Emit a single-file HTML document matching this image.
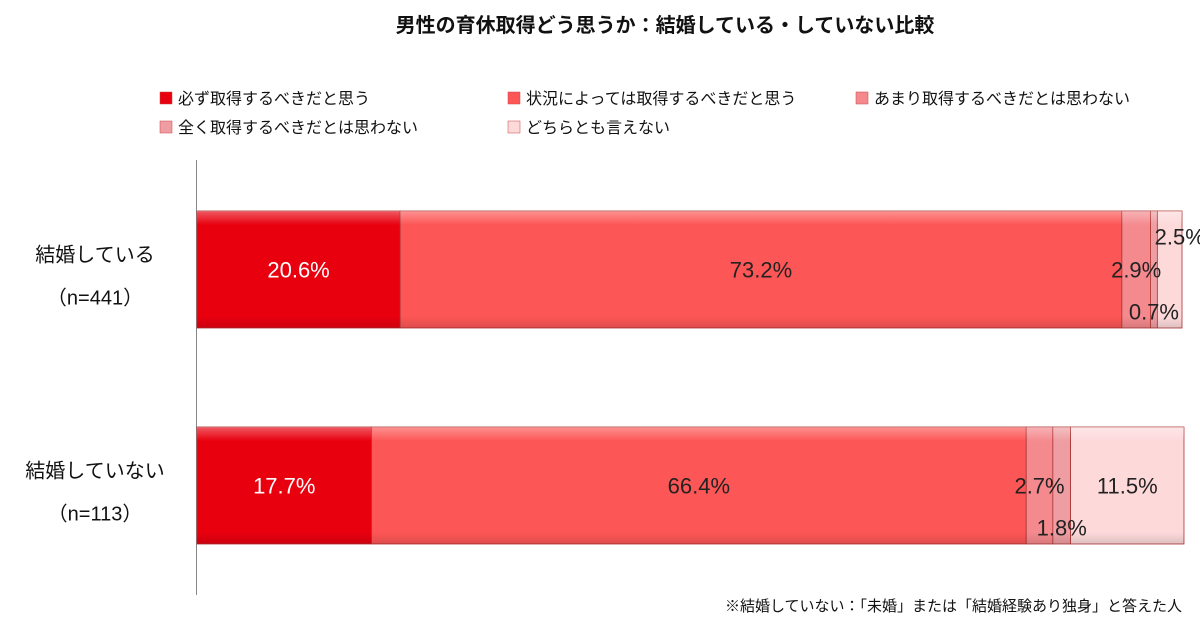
<!DOCTYPE html>
<html><head><meta charset="utf-8"><style>
body{margin:0;background:#fff;}
text{font-family:"Liberation Sans","Noto Sans CJK JP",sans-serif;}
</style></head><body>
<svg id="chart" width="1200" height="628" xmlns="http://www.w3.org/2000/svg">
<defs>
<linearGradient id="shine" x1="0" y1="0" x2="0" y2="1">
<stop offset="0" stop-color="#fff" stop-opacity="0.35"/>
<stop offset="0.12" stop-color="#fff" stop-opacity="0"/>
<stop offset="0.9" stop-color="#000" stop-opacity="0"/>
<stop offset="1" stop-color="#000" stop-opacity="0.12"/>
</linearGradient>
</defs>
<text x="665" y="32" text-anchor="middle" font-size="20" font-weight="bold" fill="#111">男性の育休取得どう思うか：結婚している・していない比較</text>
<g id="legend"></g>
<line x1="196.5" y1="160" x2="196.5" y2="595" stroke="#888" stroke-width="1"/>
<g id="bars"></g>
<text x="1182" y="611" text-anchor="end" font-size="15" fill="#111">※結婚していない：「未婚」または「結婚経験あり独身」と答えた人</text>
</svg>
<script>
const categories = ["結婚している", "結婚していない"];
const sampleSizes = ["（n=441）", "（n=113）"];
const seriesNames = ["必ず取得するべきだと思う","状況によっては取得するべきだと思う","あまり取得するべきだとは思わない","全く取得するべきだとは思わない","どちらとも言えない"];
const married = [20.6, 73.2, 2.9, 0.7, 2.5];
const unmarried = [17.7, 66.4, 2.7, 1.8, 11.5];
const valueLabels = [["20.6%","73.2%","2.9%","0.7%","2.5%"],["17.7%","66.4%","2.7%","1.8%","11.5%"]];

const colors = ["#e8000f","#fd5656","#f48a8e","#ee9ea2","#fdd9da"];
const labelColors = ["#fff","#222","#222","#222","#222"];
const series = [married, unmarried];
const x0 = 197, plotW = 986;
const xScale = v => v / 100 * plotW;
const bandTop = [211, 427], bandH = 117;
const labelDy = [[0,0,0,42,-33],[0,0,0,42,0]];
const labelDx = [[0,0,0,0,10],[0,0,0,0,0]];
const NS = "http://www.w3.org/2000/svg";
const svg = document.getElementById("chart");
const barsG = document.getElementById("bars");
function mk(tag, attrs, parent){const e=document.createElementNS(NS,tag);for(const k in attrs)e.setAttribute(k,attrs[k]);(parent||svg).appendChild(e);return e;}

// legend
const legG = document.getElementById("legend");
const legPos = [[160,103],[508,103],[856,103],[160,132],[508,132]];
seriesNames.forEach((n,i)=>{
  const g = mk("g",{},legG);
  
  
  const r = mk("rect",{x:legPos[i][0],y:legPos[i][1]-11,width:12,height:12,fill:colors[i],stroke:"#c44",'stroke-width':0.5},g);
  
  
  const t = mk("text",{x:legPos[i][0]+18,y:legPos[i][1]+1,'font-size':16,fill:"#111"},g);
  
  
  t.textContent = n;
});

series.forEach((vals,ci)=>{
  const y = bandTop[ci];
  const cl = mk("text",{x:95,y:y+bandH/2-8,'text-anchor':'middle','font-size':20,fill:"#111"});
  
  
  cl.textContent = categories[ci];
  const nl = mk("text",{x:95,y:y+bandH/2+35,'text-anchor':'middle','font-size':20,fill:"#111"});
  
  
  nl.textContent = sampleSizes[ci];
  let acc = 0;
  vals.forEach((v,si)=>{
    const bx = x0 + xScale(acc), bw = xScale(v);
    const r = mk("rect",{x:bx,y:y,width:bw,height:bandH,fill:colors[si],stroke:"#a33",'stroke-width':0.8},barsG);
    
    
    const s = mk("rect",{x:bx,y:y,width:bw,height:bandH,fill:"url(#shine)"},barsG);
    
    
    acc += v;
  });
  acc = 0;
  vals.forEach((v,si)=>{
    const cx = x0 + xScale(acc + v/2);
    const t = mk("text",{x:cx+labelDx[ci][si],y:y+bandH/2+8+labelDy[ci][si],'text-anchor':'middle','font-size':22,fill:labelColors[si]});
    
    
    t.textContent = valueLabels[ci][si];
    acc += v;
  });
});
</script>
</body></html>
